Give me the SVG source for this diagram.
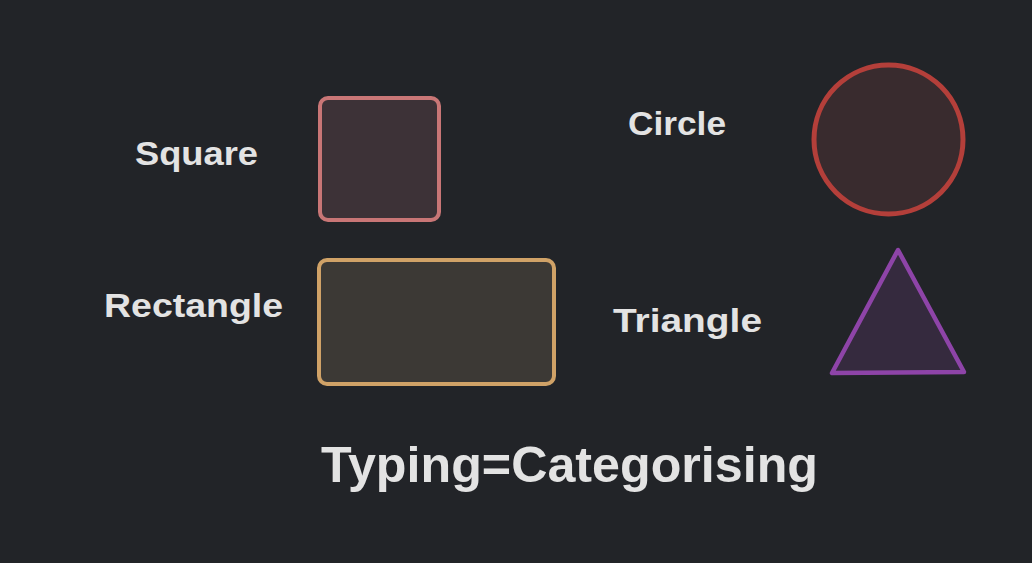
<svg xmlns="http://www.w3.org/2000/svg" width="1032" height="563" viewBox="0 0 1032 563">
  <style>
    .lbl { font-family: "Liberation Sans", Arial, sans-serif; font-weight: bold; fill: #e3e3e3; }
    .shape { stroke-linejoin: round; stroke-linecap: round; }
  </style>
  <rect x="0" y="0" width="1032" height="563" fill="#222428"/>

  <g id="square">
    <rect class="shape" x="320" y="98" width="119" height="122" rx="8" ry="8" fill="#3d3237" stroke="#c97676" stroke-width="4"/>
  </g>
  <g id="rectangle">
    <rect class="shape" x="319" y="260" width="235" height="124" rx="8" ry="8" fill="#3c3935" stroke="#d0a267" stroke-width="4"/>
  </g>
  <g id="circle">
    <circle cx="888.5" cy="139.5" r="74.5" fill="#392b2e" stroke="#b43f3a" stroke-width="5"/>
  </g>
  <g id="triangle">
    <polygon class="shape" points="898,250 832,373 964,372" fill="#352a3e" stroke="#8e44a8" stroke-width="4.5"/>
  </g>

  <g id="label-square"><text class="lbl" x="135" y="165" font-size="34" textLength="123" lengthAdjust="spacingAndGlyphs">Square</text></g>
  <g id="label-rectangle"><text class="lbl" x="104" y="317" font-size="34" textLength="179" lengthAdjust="spacingAndGlyphs">Rectangle</text></g>
  <g id="label-circle"><text class="lbl" x="628" y="135" font-size="34" textLength="98" lengthAdjust="spacingAndGlyphs">Circle</text></g>
  <g id="label-triangle"><text class="lbl" x="613" y="332" font-size="34" textLength="149" lengthAdjust="spacingAndGlyphs">Triangle</text></g>
  <g id="title"><text class="lbl" x="321" y="482" font-size="50" textLength="497" lengthAdjust="spacingAndGlyphs">Typing=Categorising</text></g>

  <g id="connectors"></g>
</svg>
